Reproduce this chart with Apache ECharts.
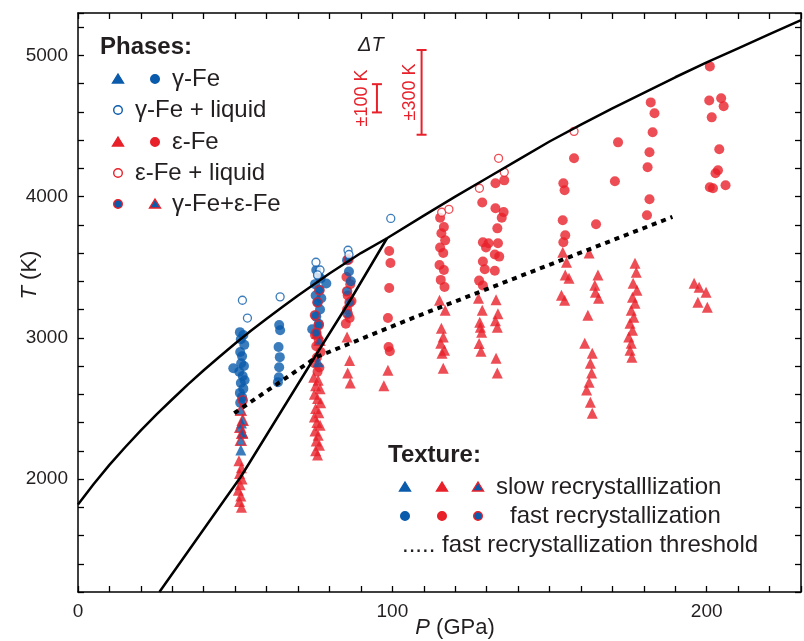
<!DOCTYPE html>
<html>
<head>
<meta charset="utf-8">
<script src="https://cdn.jsdelivr.net/npm/echarts@6/dist/echarts.min.js"></script>
<style>html,body{margin:0;padding:0;background:#fff}#main{width:804px;height:641px}</style>
</head>
<body>
<div id="main"></div>
<script>
var BLUE = '#0a5bab', RED = '#e8202a';

// [P (GPa), T (K)]
var gammaSolid = [
  [49.4,2785],[51.5,3040],[52.6,3020],[51.8,2990],[52.9,2950],[51.6,2900],[52.2,2870],[51.9,2820],
  [52.8,2800],[51.3,2760],[52.4,2730],[53.0,2700],[51.8,2680],[52.6,2640],[51.5,2610],[52.2,2580],[51.6,2540],
  [64.0,3090],[64.3,3054],[63.8,2935],[64.2,2863],[64.0,2792],[63.9,2721],[63.6,2686],
  [75.8,3480],[76.5,3440],[77.2,3420],[75.4,3380],[79.0,3385],[76.8,3340],[75.6,3300],[77.4,3280],
  [76.2,3250],[77.0,3200],[75.8,3150],[76.6,3100],[74.5,3060],
  [85.6,3550],[86.2,3470],[86.8,3400]
];
var gammaLiquid = [
  [52.3,3266],[53.9,3140],[64.3,3290],[75.7,3535],[77.0,3480],[76.2,3445],[85.9,3620],[86.2,3590],[99.5,3845]
];
var epsSolid = [
  [75.4,3020],[76.6,2980],[75.8,2940],[77.2,2900],[76.0,2860],[75.2,2820],[76.8,2790],[76.2,2760],
  [85.4,3430],[86.6,3380],[85.8,3300],[87.0,3260],[85.6,3200],[86.4,3140],[85.2,3100],
  [99.0,3615],[99.4,3530],[99.0,3353],[98.6,3140],[98.8,2935],[99.2,2905],
  [115.2,3850],[116.4,3785],[115.6,3740],[116.8,3690],[115.2,3640],[116.2,3600],[115.0,3515],
  [116.4,3480],[115.4,3410],[116.6,3360],
  [128.6,3958],[132.8,4094],[135.6,4115],[132.8,3917],[135.4,3890],[134.8,3850],[133.4,3775],
  [128.8,3677],[130.6,3670],[133.6,3670],[129.8,3640],[132.6,3590],[134.0,3575],[128.8,3540],
  [129.4,3485],[132.6,3475],[127.6,3405],[128.8,3370],
  [154.4,4094],[154.8,4045],[154.2,3832],[155.0,3726],[154.4,3677],[157.8,4271],[164.8,3804],
  [171.8,4384],[170.8,4108],
  [182.2,4667],[183.4,4590],[182.8,4455],[181.8,4314],[181.2,4208],[181.8,3981],[181.0,3868],
  [201.0,4922],[200.8,4681],[204.6,4696],[205.4,4640],[201.6,4561],[204.0,4335],[203.6,4186],
  [202.8,4165],[201.0,4066],[202.0,4059],[206.0,4080]
];
var epsLiquid = [
  [115.7,3889],[118.0,3910],[127.7,4059],[133.8,4271],[135.6,4172],[157.8,4462]
];
var gammaTri = [[52.0,2396],[51.8,2205],[52.4,2330],[76.4,2830]];
var epsTri = [
  [51.2,2130],[52.0,2080],[51.4,2040],[52.2,2000],[51.6,1960],[51.0,1920],[51.8,1880],[51.4,1840],[52.0,1800],
  [75.0,2720],[76.4,2700],[75.6,2660],[77.0,2640],[75.2,2600],[76.2,2570],[77.2,2540],[75.6,2500],
  [76.6,2470],[75.2,2440],[76.0,2400],[77.0,2380],[75.4,2340],[76.4,2310],[75.8,2270],[76.8,2240],
  [75.6,2200],[76.2,2170],
  [85.6,3005],[86.4,2840],[85.8,2750],[86.6,2680],[97.3,2660],[98.6,2770],
  [115.0,3266],[116.8,3196],[115.6,3068],[116.2,3005],[115.4,2962],[116.6,2912],[115.8,2891],[116.2,2785],
  [127.4,3280],[128.6,3196],[127.8,3110],[128.0,3075],[128.4,3040],[127.6,2960],[128.2,2905],
  [133.0,3270],[133.6,3170],[132.8,3120],[133.4,3075],[133.0,2855],[133.4,2750],
  [154.2,3606],[155.4,3535],[155.0,3444],[156.2,3422],[153.8,3302],[154.8,3266],
  [162.6,3600],[165.4,3444],[164.4,3373],[164.6,3323],[165.6,3280],[162.2,3160],[161.2,2962],
  [163.6,2891],[163.0,2820],[163.4,2750],[162.6,2686],[161.8,2630],[163.0,2544],[163.6,2466],
  [177.2,3528],[177.6,3465],[176.6,3386],[177.8,3337],[176.4,3287],[177.2,3245],[176.0,3196],
  [176.8,3146],[175.6,3103],[176.4,3054],[175.2,3005],[176.0,2962],[175.6,2912],[176.2,2863],
  [196.0,3386],[197.6,3358],[199.8,3323],[197.2,3252],[200.2,3217]
];
var mixCircle = [[52.4,2558],[76.8,3337],[76.2,3252],[75.4,3160],[76.6,3090],[75.8,3035],
  [86.0,3555],[85.6,3330],[86.4,3250],[85.8,3170]];
var mixTri = [[51.8,2488],[52.4,2417],[51.6,2367],[52.2,2325],[51.8,2275],[76.2,3033],[76.8,2983]];

var meltP = [0,5,10,15,20,25,30,35,40,45,50,55,60,65,70,75,80,85,90,98.3,110,120,130,140,150,160,170,180,190,200,210,220,230];
var meltT = [1820,1965,2100,2225,2345,2458,2565,2670,2770,2866,2960,3050,3135,3218,3300,3378,3455,3528,3600,3705,3865,4000,4130,4260,4390,4510,4625,4735,4845,4950,5050,5150,5250];
var boundP = [25.9,46.5,51.8,76,86.6,98.3];
var boundT = [1200,1850,2016,2889,3266,3705];
var threshP = [49.7,76,107.8,189.1];
var threshT = [2466,2865,3152,3856];
var errP = [95.1,109.3], errT = [4696,4738], errD = [100,300];

function zip(a, b) { return a.map(function (v, i) { return [v, b[i]]; }); }

var TRI = 'triangle';
function sc(data, sym, size, fill, border, bw) {
  return { type: 'scatter', data: data, symbol: sym, symbolSize: size,
    itemStyle: { color: fill, borderColor: border || fill, borderWidth: bw || 0 }, z: 3 };
}

var chart = echarts.init(document.getElementById('main'));
var font = 'Liberation Sans';
var axisCommon = {
  type: 'value',
  axisLine: { onZero: false, lineStyle: { color: '#000', width: 1.5 } },
  axisTick: { inside: true, length: 6, lineStyle: { color: '#000', width: 1.3 } },
  splitLine: { show: false }
};
var xBase = Object.assign({}, axisCommon, { min: 0, max: 230, interval: 10 });
var yBase = Object.assign({}, axisCommon, { min: 1200, max: 5300, interval: 200 });

function legendSym(x, y, kind, fill, stroke) {
  if (kind === 'c') return { type: 'circle', shape: { cx: x, cy: y, r: 4.3 },
    style: { fill: fill, stroke: stroke, lineWidth: 1.4 } };
  return { type: 'polygon', shape: { points: [[x, y - 5], [x + 5.5, y + 4], [x - 5.5, y + 4]] },
    style: { fill: fill, stroke: stroke, lineWidth: 1.4 } };
}
function txt(x, y, s, size, bold) {
  return { type: 'text', x: x, y: y, style: { text: s, font: (bold ? 'bold ' : '') + size + 'px "' + font + '"',
    fill: '#231f20', verticalAlign: 'middle' } };
}

var graphics = [
  txt(100, 47, 'Phases:', 24, true),
  legendSym(118, 79, 't', BLUE, BLUE), legendSym(155, 79, 'c', BLUE, BLUE), txt(172, 79, 'γ-Fe', 24),
  legendSym(118, 110, 'c', '#fff', BLUE), txt(135, 110, 'γ-Fe + liquid', 24),
  legendSym(118, 142, 't', RED, RED), legendSym(155, 142, 'c', RED, RED), txt(172, 142, 'ε-Fe', 24),
  legendSym(118, 173, 'c', '#fff', RED), txt(135, 173, 'ε-Fe + liquid', 24),
  legendSym(118, 204, 'c', BLUE, RED), legendSym(155, 204, 't', BLUE, RED), txt(172, 204, 'γ-Fe+ε-Fe', 24),
  txt(388, 455, 'Texture:', 24, true),
  legendSym(405, 487, 't', BLUE, BLUE), legendSym(442, 487, 't', RED, RED), legendSym(478, 487, 't', BLUE, RED),
  txt(496, 487, 'slow recrystalllization', 24),
  legendSym(405, 516, 'c', BLUE, BLUE), legendSym(442, 516, 'c', RED, RED), legendSym(478, 516, 'c', BLUE, RED),
  txt(510, 516, 'fast recrystallization', 24),
  txt(402, 545, '..... fast recrystallization threshold', 24),
  { type: 'text', x: 358, y: 45, style: { text: '{i|ΔT}', verticalAlign: 'middle',
    rich: { i: { font: 'italic 20px "' + font + '"', fill: '#231f20' } } } },
  { type: 'text', x: 362, y: 98, rotation: Math.PI / 2, style: { text: '±100 K', font: '18px "' + font + '"',
    fill: RED, align: 'center', verticalAlign: 'middle' } },
  { type: 'text', x: 410, y: 92, rotation: Math.PI / 2, style: { text: '±300 K', font: '18px "' + font + '"',
    fill: RED, align: 'center', verticalAlign: 'middle' } },
  { type: 'text', x: 455, y: 628, style: { text: '{i|P}{n| (GPa)}', align: 'center', verticalAlign: 'middle',
    rich: { i: { font: 'italic 22px "' + font + '"', fill: '#231f20' }, n: { font: '22px "' + font + '"', fill: '#231f20' } } } },
  { type: 'text', x: 30, y: 275, rotation: Math.PI / 2, style: { text: '{i|T}{n| (K)}', align: 'center', verticalAlign: 'middle',
    rich: { i: { font: 'italic 22px "' + font + '"', fill: '#231f20' }, n: { font: '22px "' + font + '"', fill: '#231f20' } } } }
];

chart.setOption({
  animation: false,
  grid: { left: 78, right: 1, top: 13, bottom: 49 },
  xAxis: [
    Object.assign({}, xBase, { position: 'bottom',
      axisLabel: { fontFamily: font, fontSize: 19, color: '#231f20', margin: 10,
        formatter: function (v) { return v % 100 === 0 ? String(v) : ''; } } }),
    Object.assign({}, xBase, { position: 'top', axisLabel: { show: false } })
  ],
  yAxis: [
    Object.assign({}, yBase, { position: 'left',
      axisLabel: { fontFamily: font, fontSize: 19, color: '#231f20', margin: 10,
        formatter: function (v) { return v % 1000 === 0 ? String(v) : ''; } } }),
    Object.assign({}, yBase, { position: 'right', axisLabel: { show: false } })
  ],
  graphic: graphics,
  series: [
    { type: 'line', data: zip(meltP, meltT), showSymbol: false, symbol: 'none',
      lineStyle: { color: '#000', width: 2.5 }, z: 5 },
    { type: 'line', data: zip(boundP, boundT), showSymbol: false, symbol: 'none',
      lineStyle: { color: '#000', width: 2.5 }, z: 5 },
    { type: 'line', data: zip(threshP, threshT), showSymbol: false, symbol: 'none',
      lineStyle: { color: '#000', width: 4, type: [5, 5] }, z: 5 },
    { type: 'custom', data: errP.map(function (p, i) { return [p, errT[i], errD[i]]; }),
      renderItem: function (params, api) {
        var top = api.coord([api.value(0), api.value(1) + api.value(2)]);
        var bot = api.coord([api.value(0), api.value(1) - api.value(2)]);
        var st = { stroke: RED, lineWidth: 2 };
        return { type: 'group', children: [
          { type: 'line', shape: { x1: top[0], y1: top[1], x2: bot[0], y2: bot[1] }, style: st },
          { type: 'line', shape: { x1: top[0] - 5, y1: top[1], x2: top[0] + 5, y2: top[1] }, style: st },
          { type: 'line', shape: { x1: bot[0] - 5, y1: bot[1], x2: bot[0] + 5, y2: bot[1] }, style: st }
        ] };
      } },
    sc(epsTri, TRI, 11, RED),
    sc(epsSolid, 'circle', 10, RED),
    sc(gammaTri, TRI, 11, BLUE),
    sc(gammaSolid, 'circle', 10, BLUE),
    sc(mixTri, TRI, 10, BLUE, RED, 1.6),
    sc(mixCircle, 'circle', 9, BLUE, RED, 1.6),
    sc(gammaLiquid, 'circle', 8, '#fff', BLUE, 1.3),
    sc(epsLiquid, 'circle', 8, '#fff', RED, 1.3)
  ]
});
</script>
</body>
</html>
